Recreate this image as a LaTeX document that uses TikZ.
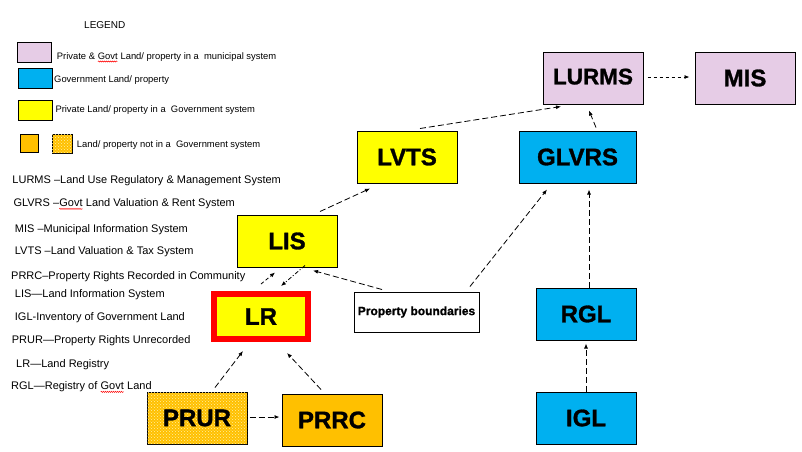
\documentclass[tikz,border=0pt]{standalone}
\usepackage{fontspec}
\setmainfont{Liberation Sans}
\newfontfamily\boxfont[BoldFont={Liberation Sans Bold}, BoldFeatures={FakeBold=1.2}]{Liberation Sans}
\usetikzlibrary{arrows.meta,calc,patterns,decorations.pathmorphing}
\definecolor{pinkbox}{HTML}{E6CCE6}
\definecolor{bluebox}{HTML}{00B0F0}
\definecolor{yellowbox}{HTML}{FFFF00}
\definecolor{orangebox}{HTML}{FFC000}
\definecolor{dotcol}{HTML}{FFF0A0}
\newcommand\spellwave[1]{\tikz[baseline=(sw.base)]{\node[inner sep=0pt, outer sep=0pt] (sw) {#1}; \draw[red, line width=0.45pt, decorate, decoration={snake, amplitude=0.6pt, segment length=2pt}] ([yshift=-2pt]sw.base west) -- ([yshift=-2pt]sw.base east);}}
\tikzset{
  box/.style={draw=black, line width=1pt, minimum width=100pt, minimum height=52pt, inner sep=0pt, font=\boxfont\fontsize{24}{26}\selectfont\bfseries},
  pinkb/.style={box, fill=pinkbox},
  blueb/.style={box, fill=bluebox},
  yellowb/.style={box, fill=yellowbox},
  orangeb/.style={box, fill=orangebox},
  hatchb/.style={box, fill=orangebox, postaction={pattern=crosshatch dots, pattern color=dotcol}},
  conn/.style={draw=black, line width=0.8pt, dash pattern=on 6pt off 3pt, -{Latex[length=5pt,width=4pt]}},
  conndot/.style={conn, dash pattern=on 4pt off 2pt on 1pt off 2pt},
  connshort/.style={conn, dash pattern=on 3.5pt off 2.5pt},
  legtext/.style={anchor=west, inner sep=0pt, font=\fontsize{9.4}{11}\selectfont},
  abbr/.style={anchor=west, inner sep=0pt, font=\fontsize{11}{13}\selectfont},
  legbox/.style={draw=black, line width=1pt}
}
\begin{document}
\begin{tikzpicture}[x=1pt,y=-1pt]
\useasboundingbox (0,0) rectangle (802,451);
\fill[white] (0,0) rectangle (802,451);

% legend
\node[anchor=west, inner sep=0pt, font=\fontsize{10}{12}\selectfont] (legend) at (84,25) {LEGEND};
\draw[legbox, fill=pinkbox] (17,42) rectangle (51,62);
\draw[legbox, fill=bluebox] (18,68) rectangle (52,88);
\draw[legbox, fill=yellowbox] (18,100) rectangle (52,120);
\draw[legbox, fill=orangebox] (20,134) rectangle (38,152);
\draw[legbox, fill=orangebox, postaction={pattern=crosshatch dots, pattern color=dotcol}] (52,134) rectangle (72,153);
\node[legtext] (l1) at (56.7,57.5) {Private \& \spellwave{Govt} Land/ property in a~ municipal system};
\node[legtext] (l2) at (54,80) {Government Land/ property};
\node[legtext] (l3) at (55.3,110) {Private Land/ property in a~ Government system};
\node[legtext] (l4) at (76.7,145.5) {Land/ property not in a~ Government system};

% abbreviations
\node[abbr] (a1) at (12.3,180.7) {LURMS --Land Use Regulatory \& Management System};
\node[abbr] (a2) at (13.3,204.3) {GLVRS --\spellwave{Govt} Land Valuation \& Rent System};
\node[abbr] (a3) at (14.7,229.3) {MIS --Municipal Information System};
\node[abbr] (a4) at (14.7,251.7) {LVTS --Land Valuation \& Tax System};
\node[abbr] (a5) at (11,276.3) {PRRC--Property Rights Recorded in Community};
\node[abbr] (a6) at (14.7,294.3) {LIS---Land Information System};
\node[abbr] (a7) at (14.7,317.7) {IGL-Inventory of Government Land};
\node[abbr] (a8) at (11.7,341) {PRUR---Property Rights Unrecorded};
\node[abbr] (a9) at (16,364.3) {LR---Land Registry};
\node[abbr] (a10) at (11,387.3) {RGL---Registry of \spellwave{Govt} Land};

% main boxes
\node[pinkb, font=\boxfont\fontsize{22.5}{24}\selectfont\bfseries, text depth=3pt] (lurms) at (593,78) {LURMS};
\node[pinkb] (mis) at (745,78) {MIS\hspace{15pt}};
\node[yellowb] (lvts) at (407,157) {LVTS\hspace{10pt}};
\node[blueb, minimum width=117pt] (glvrs) at (577.5,157) {GLVRS\hspace{13pt}};
\node[yellowb] (lis) at (287,241) {LIS\hspace{5pt}};
\node[yellowb, draw=red, line width=6pt, minimum width=94pt, minimum height=45pt] (lr) at (261,316.5) {LR};
\node[box, fill=white, minimum width=125pt, minimum height=40pt, font=\boxfont\fontsize{12}{14}\selectfont\bfseries] (pb) at (416.5,312) {Property boundaries};
\node[hatchb] (prur) at (197,418) {PRUR};
\node[orangeb] (prrc) at (332,420) {PRRC\hspace{12pt}};
\node[blueb] (rgl) at (586,314) {RGL\hspace{11pt}};
\node[blueb] (igl) at (586,418) {IGL\hspace{24pt}};

% connectors
\draw[conn] ($(prur.east)+(2,-1)$) -- ($(prrc.west)+(-2,-3)$);
\draw[conn] ($(prur.north)+(18,-4)$) -- ($(lr.south)+(-18,9)$);
\draw[conn] ($(prrc.north)+(-11,-4)$) -- ($(lr.south)+(26,11)$);
\draw[connshort] ($(lr.north)+(0,-7)$) -- ($(lis.south)+(-12,5)$);
\draw[conndot] ($(lis.south)+(18,-2)$) -- ($(lr.north)+(20,-5)$);
\draw[conn] ($(pb.north)+(-34.5,-2)$) -- ($(lis.south)+(26,3)$);
\draw[conn] ($(pb.north)+(53.5,-5)$) -- ($(glvrs.south)+(-30.5,6)$);
\draw[conn] ($(lis.north)+(33,-3)$) -- ($(lvts.south)+(-37,5)$);
\draw[conn] ($(lvts.north)+(13,-2)$) -- ($(lurms.south)+(-32,2)$);
\draw[conn] ($(glvrs.north)+(18.5,-3)$) -- ($(lurms.south)+(-4,6)$);
\draw[connshort] ($(lurms.east)+(4,-1)$) -- ($(mis.west)+(-5,-1)$);
\draw[conn] ($(rgl.north)+(3,0)$) -- ($(glvrs.south)+(11.5,6)$);
\draw[conn] (igl.north) -- ($(rgl.south)+(0,3)$);
\end{tikzpicture}
\end{document}
